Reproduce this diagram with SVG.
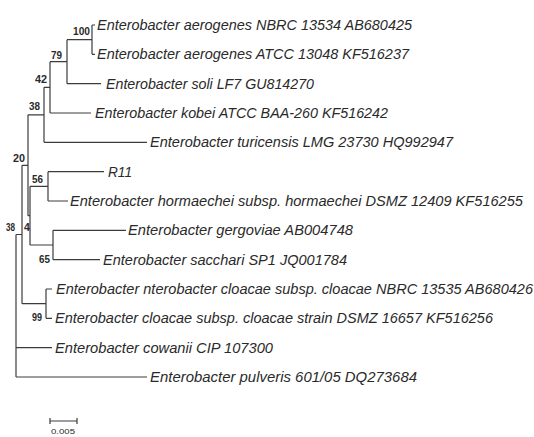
<svg xmlns="http://www.w3.org/2000/svg" width="534" height="437" viewBox="0 0 534 437">
<style>
.br{fill:none;stroke:#3c3c3c;stroke-width:1.2}
.lf{font-family:"Liberation Sans",Arial,sans-serif;font-style:italic;font-size:14.5px;fill:#2a2a2a}
.bs{font-family:"Liberation Sans",Arial,sans-serif;font-size:10.5px;font-weight:bold;fill:#2a2a2a}
.sc{font-family:"Liberation Sans",Arial,sans-serif;font-size:7px;fill:#2a2a2a}
</style>
<rect width="534" height="437" fill="#fff"/>
<g id="connectors" class="br">
<path d="M92,25V54.3M92,25H95M92,54.3H95"/>
<path d="M67,39.7V83.7M67,39.7H92M67,83.7H101"/>
<path d="M50,61.7V113M50,61.7H67M50,113H91"/>
<path d="M44,87.3V142.3M44,87.3H50M44,142.3H147"/>
<path d="M28,114.8V215.7M28,114.8H44"/>
<path d="M30,186.3V245M28,215.7H30"/>
<path d="M48,171.7V201M30,186.3H48M48,171.7H104M48,201H68"/>
<path d="M53,230.3V259.7M30,245H53M53,230.3H126M53,259.7H100"/>
<path d="M22,165.3V303.7M22,165.3H28M22,303.7H46"/>
<path d="M46,289V318.3M46,289H52M46,318.3H52"/>
<path d="M16,234.5V377M16,234.5H22M16,347.7H52M16,377H147"/>
</g>
<g id="leaf1"><text class="lf" x="97" y="30" textLength="315" lengthAdjust="spacingAndGlyphs">Enterobacter aerogenes NBRC 13534 AB680425</text></g>
<g id="leaf2"><text class="lf" x="97" y="59.3" textLength="312" lengthAdjust="spacingAndGlyphs">Enterobacter aerogenes ATCC 13048 KF516237</text></g>
<g id="leaf3"><text class="lf" x="106" y="88.7" textLength="208" lengthAdjust="spacingAndGlyphs">Enterobacter soli LF7 GU814270</text></g>
<g id="leaf4"><text class="lf" x="95" y="118" textLength="293" lengthAdjust="spacingAndGlyphs">Enterobacter kobei ATCC BAA-260 KF516242</text></g>
<g id="leaf5"><text class="lf" x="150" y="147.3" textLength="303" lengthAdjust="spacingAndGlyphs">Enterobacter turicensis LMG 23730 HQ992947</text></g>
<g id="leaf6"><text class="lf" x="108" y="176.7" textLength="24" lengthAdjust="spacingAndGlyphs">R11</text></g>
<g id="leaf7"><text class="lf" x="70" y="206" textLength="453" lengthAdjust="spacingAndGlyphs">Enterobacter hormaechei subsp. hormaechei DSMZ 12409 KF516255</text></g>
<g id="leaf8"><text class="lf" x="128" y="235.3" textLength="225" lengthAdjust="spacingAndGlyphs">Enterobacter gergoviae AB004748</text></g>
<g id="leaf9"><text class="lf" x="103" y="264.7" textLength="244" lengthAdjust="spacingAndGlyphs">Enterobacter sacchari SP1 JQ001784</text></g>
<g id="leaf10"><text class="lf" x="56" y="294" textLength="477" lengthAdjust="spacingAndGlyphs">Enterobacter nterobacter cloacae subsp. cloacae NBRC 13535 AB680426</text></g>
<g id="leaf11"><text class="lf" x="55" y="323.3" textLength="438" lengthAdjust="spacingAndGlyphs">Enterobacter cloacae subsp. cloacae strain DSMZ 16657 KF516256</text></g>
<g id="leaf12"><text class="lf" x="55" y="352.7" textLength="218" lengthAdjust="spacingAndGlyphs">Enterobacter cowanii CIP 107300</text></g>
<g id="leaf13"><text class="lf" x="150" y="382" textLength="267" lengthAdjust="spacingAndGlyphs">Enterobacter pulveris 601/05 DQ273684</text></g>
<g id="bootstrap">
<text class="bs" x="73" y="35" textLength="17" lengthAdjust="spacingAndGlyphs">100</text>
<text class="bs" x="51" y="59" textLength="11" lengthAdjust="spacingAndGlyphs">79</text>
<text class="bs" x="35" y="83" textLength="12" lengthAdjust="spacingAndGlyphs">42</text>
<text class="bs" x="29" y="110" textLength="11" lengthAdjust="spacingAndGlyphs">38</text>
<text class="bs" x="13" y="162" textLength="12" lengthAdjust="spacingAndGlyphs">20</text>
<text class="bs" x="32" y="183" textLength="11" lengthAdjust="spacingAndGlyphs">56</text>
<text class="bs" x="6" y="231" textLength="9" lengthAdjust="spacingAndGlyphs">38</text>
<text class="bs" x="24" y="231">4</text>
<text class="bs" x="39" y="263" textLength="11" lengthAdjust="spacingAndGlyphs">65</text>
<text class="bs" x="32" y="321" textLength="10" lengthAdjust="spacingAndGlyphs">99</text>
</g>
<g id="scale">
<path class="br" d="M50,421H77M50,418V424M77,418V424"/>
<text class="sc" x="51" y="434" textLength="24" lengthAdjust="spacingAndGlyphs">0.005</text>
</g>
</svg>
